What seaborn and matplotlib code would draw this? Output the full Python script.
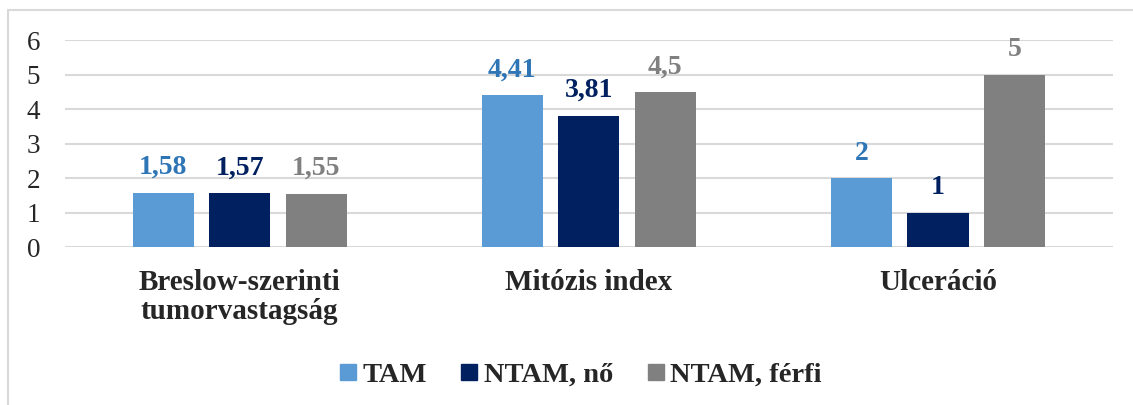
import pandas as pd
import matplotlib.pyplot as plt
import seaborn as sns
from matplotlib.patches import Rectangle
from matplotlib.lines import Line2D

# Chart data
categories = ['Breslow-szerinti\ntumorvastagság', 'Mitózis index', 'Ulceráció']
groups = ['TAM', 'NTAM, nő', 'NTAM, férfi']
tam = [1.58, 4.41, 2]
ntam_no = [1.57, 3.81, 1]
ntam_ferfi = [1.55, 4.5, 5]

bar_colors = ['#5B9BD5', '#002060', '#808080']
label_colors = ['#2E75B6', '#002060', '#808080']

df = pd.DataFrame({
    'category': categories * 3,
    'group': [g for g in groups for _ in categories],
    'value': tam + ntam_no + ntam_ferfi,
})

sns.set_style('white')
plt.rcParams['font.family'] = ['Liberation Serif', 'DejaVu Serif']

fig = plt.figure(figsize=(11.33, 4.05), dpi=100)
ax = fig.add_axes([0.0574, 0.390, 0.9246, 0.511])

sns.barplot(data=df, x='category', y='value', hue='group', palette=bar_colors,
            width=0.657, gap=0.2, saturation=1, linewidth=0, ax=ax, legend=False)

ax.set_ylim(0, 6)
ax.set_yticks(range(0, 7))
ax.set_xlim(-0.5, 2.5)
ax.yaxis.grid(True, color='#D9D9D9', linewidth=1.5)
ax.set_axisbelow(True)
for s in ax.spines.values():
    s.set_visible(False)
ax.set_xlabel('')
ax.set_ylabel('')
ax.tick_params(axis='y', labelsize=19.5, length=0, pad=18)
ax.tick_params(axis='x', labelsize=21, length=0, pad=16)
for t in ax.get_xticklabels():
    t.set_fontweight('bold')
    t.set_linespacing(1.1)

# value labels with comma decimals
for cont, series, col in zip(ax.containers, [tam, ntam_no, ntam_ferfi], label_colors):
    labels = [f'{v:g}'.replace('.', ',') for v in series]
    ax.bar_label(cont, labels=labels, padding=9, fontsize=20, fontweight='bold', color=col)

handles = [Line2D([], [], marker='s', linestyle='none', markersize=11, color=c) for c in bar_colors]
fig.legend(handles, groups, loc='center', bbox_to_anchor=(0.511, 0.074), ncol=3,
           frameon=False, prop={'size': 20.5, 'weight': 'bold'},
           handletextpad=0.1, columnspacing=1.1, handlelength=0.8)

# outer chart border
fig.patches.append(Rectangle((0.007, -0.1), 1.1, 1.075, transform=fig.transFigure,
                             fill=False, edgecolor='#D9D9D9', linewidth=1.5))

fig.savefig('out.png', dpi=100)
